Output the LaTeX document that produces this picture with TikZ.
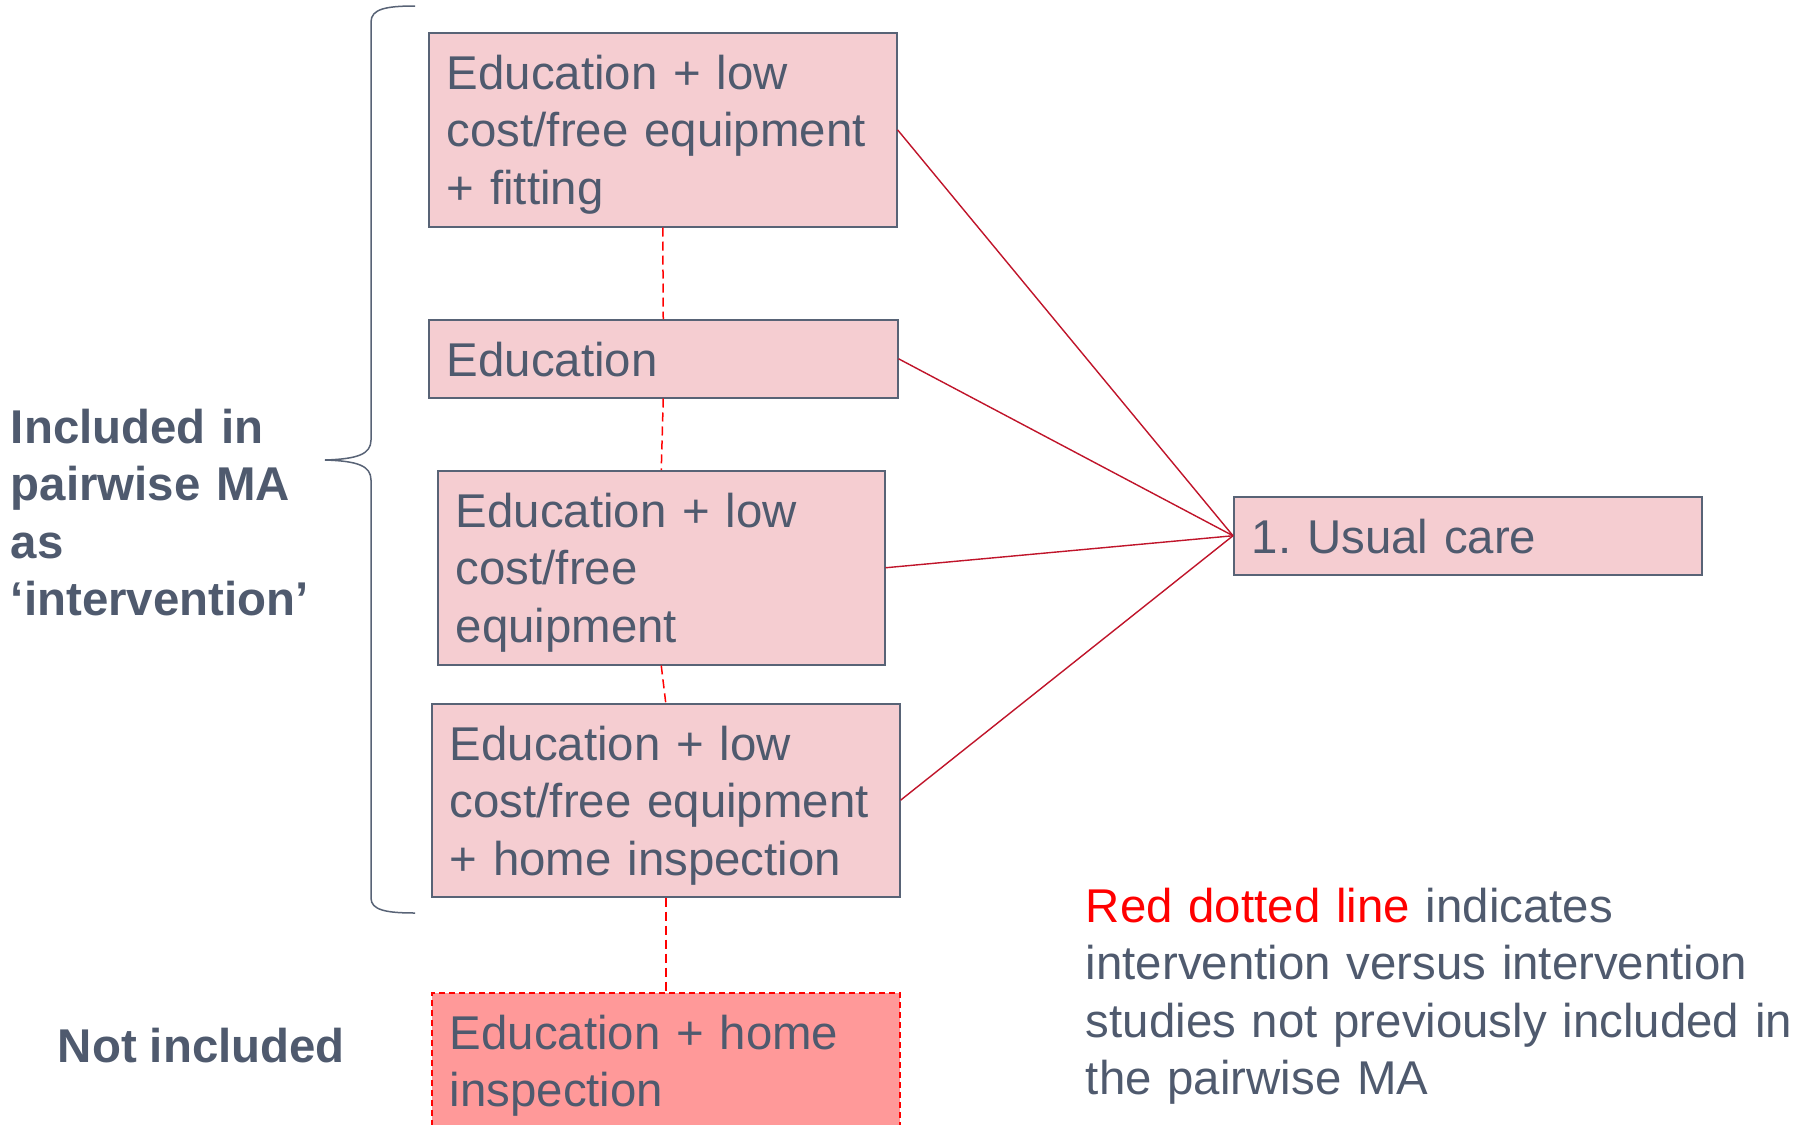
\documentclass[tikz,border=0pt]{standalone}
\usepackage{fontspec}
\setmainfont{Liberation Sans}
\frenchspacing
\definecolor{textc}{RGB}{79,90,110}
\definecolor{edgec}{RGB}{88,99,118}
\definecolor{boxfill}{RGB}{245,205,209}
\definecolor{notfill}{RGB}{255,153,153}
\definecolor{linkc}{RGB}{192,20,42}
\definecolor{dotc}{RGB}{255,0,0}
\begin{document}
\begin{tikzpicture}[x=0.5pt,y=-0.5pt,
  txt/.style={text=textc, inner sep=0pt, align=left,
    font=\fontsize{23.7pt}{28.8pt}\selectfont},
  boldtxt/.style={txt, font=\fontsize{23.7pt}{28.8pt}\selectfont\bfseries},
  box/.style={txt, draw=edgec, line width=0.75pt, fill=boxfill,
    anchor=north west, inner xsep=9pt, inner ysep=0pt, text height=28.3pt},
  notbox/.style={box, draw=dotc, fill=notfill, dash pattern=on 3pt off 2pt},
  link/.style={draw=linkc, line width=0.7pt},
  vlink/.style={draw=dotc, line width=0.75pt, dash pattern=on 4.5pt off 2.5pt},
  bracket/.style={draw=edgec, line width=0.75pt}]
  \useasboundingbox (0,0) rectangle (1808,1124);
  \fill[white] (0,0) rectangle (1808,1124);

  % intervention boxes
  \node[box, text width=216pt, text depth=68.7pt] (A) at (428,32)
    {Education + low\\cost/free equipment\\+ fitting};
  \node[box, text width=216.5pt, text depth=10.7pt] (B) at (428,319)
    {Education};
  \node[box, text width=205.5pt, text depth=68.7pt] (C) at (437,470)
    {Education + low\\cost/free\\equipment};
  \node[box, text width=216pt, text depth=68.2pt] (D) at (431,703)
    {Education + low\\cost/free equipment\\+ home inspection};
  \node[notbox, text width=216pt, text depth=40.2pt] (E) at (431,992)
    {Education + home\\inspection};

  % comparator
  \node[box, text width=216pt, text depth=10.7pt] (U) at (1233,496)
    {1. Usual care};

  % comparisons with usual care
  \draw[link] (A.east) -- (U.west);
  \draw[link] (B.east) -- (U.west);
  \draw[link] (C.east) -- (U.west);
  \draw[link] (D.east) -- (U.west);

  % intervention versus intervention comparisons
  \draw[vlink] (A.south) -- (B.north);
  \draw[vlink] (B.south) -- (C.north);
  \draw[vlink] (C.south) -- (D.north);
  \draw[vlink] (D.south) -- (E.north);

  % curly bracket grouping the included interventions
  \draw[bracket] (415,6) .. controls (386,6) and (371,9) .. (371,22)
    -- (371,440) .. controls (371,454) and (358,459) .. (325,460)
    .. controls (358,461) and (371,466) .. (371,480)
    -- (371,898) .. controls (371,910) and (386,913) .. (415,913);

  % side labels
  \node[boldtxt, anchor=base west, text width=170pt] (incl) at (10.5,443)
    {Included in\\pairwise MA\\as\\‘intervention’};
  \node[boldtxt, anchor=base west] (notinc) at (57.5,1062) {Not included};

  % legend
  \node[txt, anchor=base west, text width=362pt] (legend) at (1085.5,922)
    {{\color{dotc}Red dotted line} indicates\\intervention versus intervention\\studies not previously included in\\the pairwise MA};
\end{tikzpicture}
\end{document}
